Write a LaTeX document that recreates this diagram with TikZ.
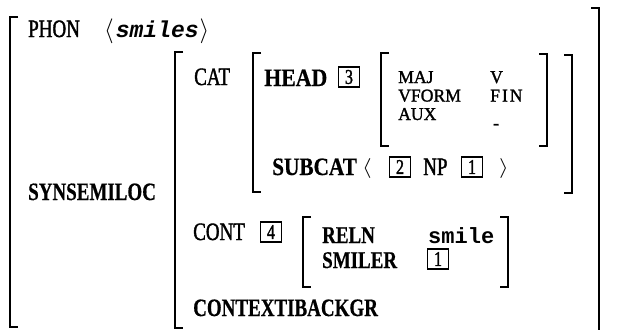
\documentclass[tikz,border=0pt]{standalone}
\usepackage{fontspec}
\setmainfont[FakeStretch=0.76,BoldFeatures={FakeBold=0.5}]{Liberation Serif}
\newfontfamily\medfont[FakeStretch=0.76,FakeBold=1.4]{Liberation Serif}
\newfontfamily\widefont[FakeStretch=0.98,FakeBold=1.4]{Liberation Serif}
\newfontfamily\monofont{Liberation Mono}
\begin{document}
\begin{tikzpicture}[x=1pt,y=-1pt,
  brk/.style={line width=2pt},
  lbl/.style={anchor=base west,inner sep=0pt,font=\fontsize{25}{25}\selectfont\medfont},
  blbl/.style={anchor=base west,inner sep=0pt,font=\fontsize{25}{25}\selectfont\bfseries},
  rlbl/.style={anchor=base west,inner sep=0pt,font=\fontsize{24}{24}\selectfont\bfseries},
  slbl/.style={anchor=base west,inner sep=0pt,font=\fontsize{18}{18}\selectfont\widefont},
  mlbl/.style={anchor=base west,inner sep=0pt,font=\fontsize{22}{22}\selectfont\monofont\bfseries},
  tag/.style={draw,line width=1.5pt,inner sep=0pt,minimum width=21pt,minimum height=20pt,font=\fontsize{21}{21}\selectfont\medfont}]
\useasboundingbox (0,0) rectangle (621,330);
% brackets
\draw[brk] (18,17) -- (10,17) -- (10,327) -- (18,327);
\draw[brk] (591,8) -- (599,8) -- (599,330);
\draw[brk] (183,52) -- (175,52) -- (175,328) -- (183,328);
\draw[brk] (261,53) -- (253,53) -- (253,192) -- (261,192);
\draw[brk] (564,55) -- (572,55) -- (572,193) -- (564,193);
\draw[brk] (389,53) -- (381,53) -- (381,146) -- (389,146);
\draw[brk] (539,54) -- (547,54) -- (547,146) -- (539,146);
\draw[brk] (311,217) -- (303,217) -- (303,287) -- (311,287);
\draw[brk] (500,217) -- (508,217) -- (508,287) -- (500,287);
% texts
\node[lbl] (phon) at (28,37) {PHON};
\node[lbl] (phonv) at (104,37) {$\langle$\kern2pt{\monofont\bfseries\itshape\fontsize{23}{23}\selectfont smiles}\kern1pt$\rangle$};
\node[lbl] (cat) at (194,85) {CAT};
\node[blbl] (head) at (264,86) {\scalebox{1.15}[1]{HEAD}};
\node[tag] (t3) at (349,77) {3};
\node[slbl] (maj) at (398,83) {MAJ};
\node[slbl] (vform) at (398,101.5) {VFORM};
\node[slbl] (aux) at (398,120) {AUX};
\node[slbl] (majv) at (490,83) {V};
\node[slbl] (fin) at (490,101.5) {F\kern2pt I\kern2pt N};
\node[slbl] (auxv) at (493,129) {-};
\node[blbl] (subcat) at (272,175) {\scalebox{1.12}[1]{SUBCAT}};
\node[lbl] (lt) at (362,173) {\scalebox{1}[0.8]{$\langle$}};
\node[tag] (t2) at (400,167) {2};
\node[lbl] (np) at (423,175) {NP};
\node[tag] (t1a) at (472,167) {1};
\node[lbl] (gt) at (499,173) {\scalebox{1}[0.8]{$\rangle$}};
\node[blbl] (synsem) at (28,200) {SYNSEMILOC};
\node[lbl] (cont) at (193,240) {CONT};
\node[tag] (t4) at (271,232) {4};
\node[rlbl] (reln) at (322,243) {\scalebox{1.04}[1]{RELN}};
\node[mlbl] (smile) at (428,243) {smile};
\node[rlbl] (smiler) at (322,268) {\scalebox{1.04}[1]{SMILER}};
\node[tag] (t1b) at (438,259) {1};
\node[blbl] (ctx) at (193,316) {CONTEXTIBACKGR};
\end{tikzpicture}
\end{document}
